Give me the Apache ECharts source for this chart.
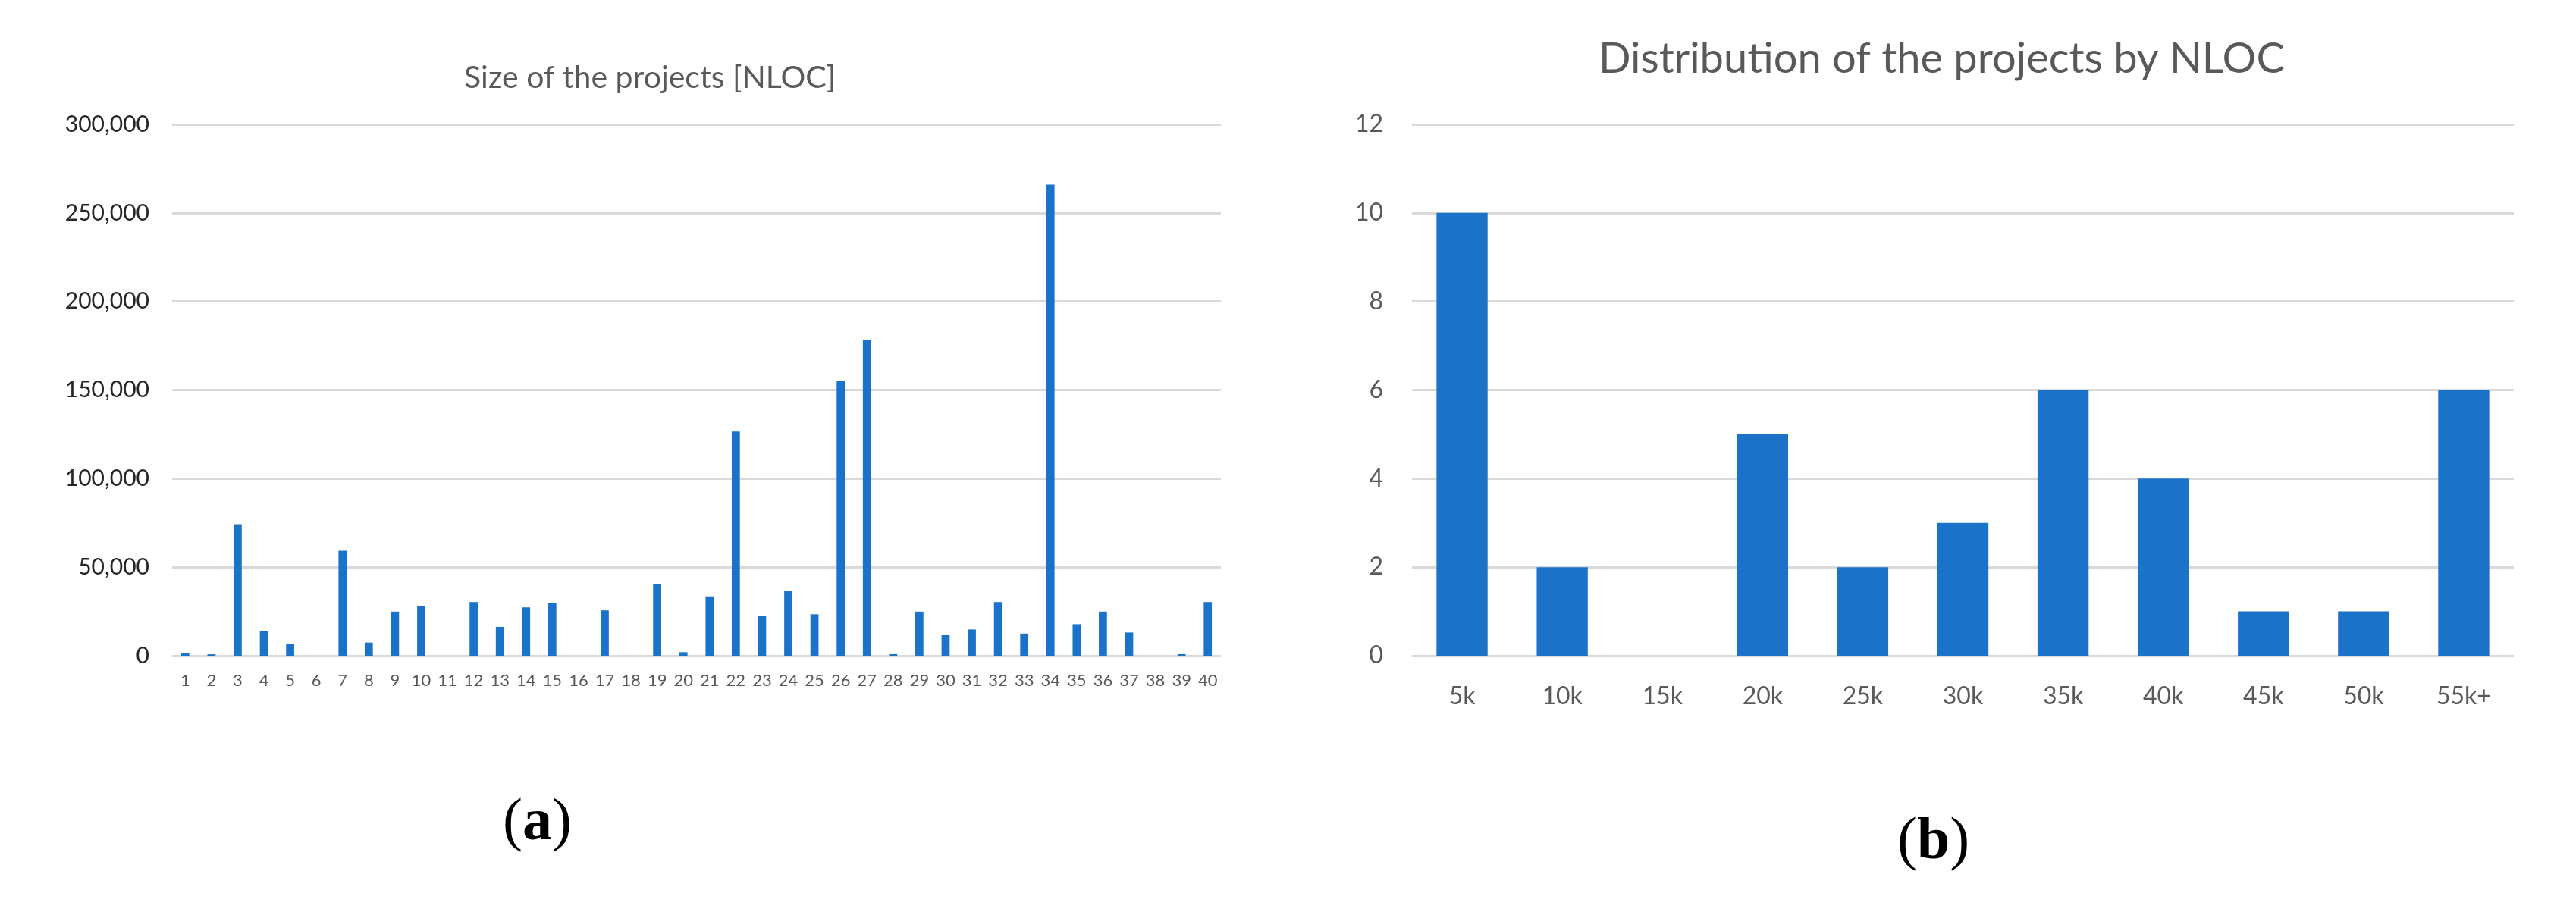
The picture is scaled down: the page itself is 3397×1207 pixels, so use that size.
<!DOCTYPE html>
<html>
<head>
<meta charset="utf-8">
<script src="https://cdn.jsdelivr.net/npm/echarts@6/dist/echarts.min.js"></script>
<style>
html,body{margin:0;padding:0;background:#fff;}
#chart{width:3397px;height:1207px;}
</style>
</head>
<body>
<div id="chart"></div>
<script>
// ---- data ----
const projects = ['1','2','3','4','5','6','7','8','9','10','11','12','13','14','15','16','17','18','19','20',
                  '21','22','23','24','25','26','27','28','29','30','31','32','33','34','35','36','37','38','39','40'];
const nloc = [1700, 800, 74200, 14000, 6500, 0, 59300, 7400, 24900, 27900,
              0, 30300, 16300, 27300, 29600, 0, 25600, 0, 40600, 2000,
              33500, 126600, 22600, 36700, 23400, 154900, 178300, 900, 24900, 11600,
              14800, 30300, 12500, 266000, 17800, 24900, 13100, 0, 900, 30300];
const bins = ['5k','10k','15k','20k','25k','30k','35k','40k','45k','50k','55k+'];
const counts = [10, 2, 0, 5, 2, 3, 6, 4, 1, 1, 6];
const titleA = 'Size of the projects [NLOC]';
const titleB = 'Distribution of the projects by NLOC';

const FONT = 'Lato, "Open Sans", sans-serif';
const BLUE = '#1a73c8';
const GRID = '#d9d9d9';
const GRAY = '#595959';

const chart = echarts.init(document.getElementById('chart'), null, {renderer:'canvas'});
chart.setOption({
  backgroundColor: '#fff',
  animation: false,
  title: [
    {text: titleA, left: 607, top: 75,
     textStyle: {fontFamily: FONT, fontSize: 41, fontWeight: 'normal', color: GRAY, lineHeight: 46}},
    {text: titleB, left: 2103, top: 42,
     textStyle: {fontFamily: FONT, fontSize: 56, fontWeight: 'normal', color: GRAY, lineHeight: 62}}
  ],
  graphic: [
    {type: 'text', left: 663, top: 1048,
     style: {text: '({b|a})', font: '78px "Liberation Serif", serif', fill: '#000',
             rich: {b: {fontFamily: '"Liberation Serif", serif', fontSize: 78, fontWeight: 'bold', fill: '#000'}}}},
    {type: 'text', left: 2502, top: 1073,
     style: {text: '({b|b})', font: '78px "Liberation Serif", serif', fill: '#000',
             rich: {b: {fontFamily: '"Liberation Serif", serif', fontSize: 78, fontWeight: 'bold', fill: '#000'}}}}
  ],
  grid: [
    {left: 227, right: 1787, top: 164, bottom: 342, containLabel: false},
    {left: 1862, right: 82, top: 164, bottom: 342, containLabel: false}
  ],
  xAxis: [
    {type: 'category', gridIndex: 0, data: projects,
     axisLine: {show: false}, axisTick: {show: false},
     axisLabel: {interval: 0, margin: 22, fontFamily: FONT, fontSize: 22, color: GRAY}},
    {type: 'category', gridIndex: 1, data: bins,
     axisLine: {show: false}, axisTick: {show: false},
     axisLabel: {interval: 0, margin: 38, fontFamily: FONT, fontSize: 32, color: GRAY}}
  ],
  yAxis: [
    {type: 'value', gridIndex: 0, min: 0, max: 300000, interval: 50000,
     axisLine: {show: false}, axisTick: {show: false},
     splitLine: {lineStyle: {color: GRID, width: 3}},
     axisLabel: {margin: 30, fontFamily: FONT, fontSize: 30, color: '#262626',
                 formatter: v => v.toLocaleString('en-US')}},
    {type: 'value', gridIndex: 1, min: 0, max: 12, interval: 2,
     axisLine: {show: false}, axisTick: {show: false},
     splitLine: {lineStyle: {color: GRID, width: 3}},
     axisLabel: {margin: 38, fontFamily: FONT, fontSize: 32, color: GRAY}}
  ],
  series: [
    {type: 'bar', xAxisIndex: 0, yAxisIndex: 0, data: nloc, barWidth: '31%',
     itemStyle: {color: BLUE}, z: 3},
    {type: 'bar', xAxisIndex: 1, yAxisIndex: 1, data: counts, barWidth: '51%',
     itemStyle: {color: BLUE}, z: 3}
  ]
});
</script>
</body>
</html>
